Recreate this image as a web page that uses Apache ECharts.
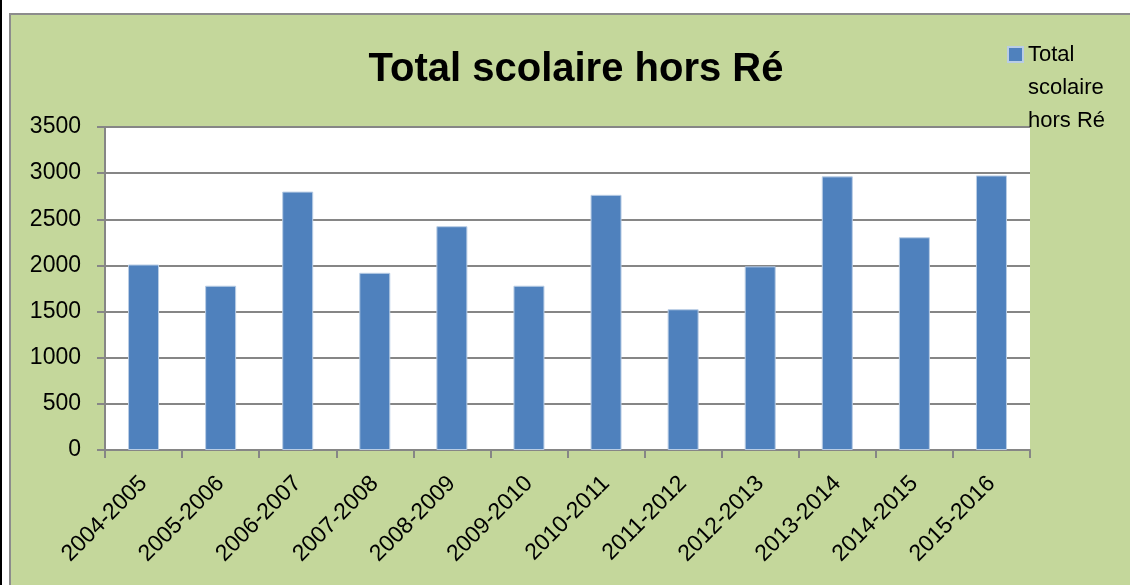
<!DOCTYPE html>
<html>
<head>
<meta charset="utf-8">
<script src="https://cdn.jsdelivr.net/npm/echarts@6/dist/echarts.min.js"></script>
<style>
    html, body { margin: 0; padding: 0; background: #fff; }
    .frame {
        position: absolute; left: 0; top: 0; width: 2px; height: 585px; background: #000;
    }
    .panel {
        position: absolute; left: 9px; top: 13px; width: 1130px; height: 600px;
        background: #c4d79b; border-left: 2px solid #8c8c8c; border-top: 2px solid #8c8c8c;
    }
    #chart { position: absolute; left: 0; top: 0; width: 1130px; height: 585px; }
</style>
</head>
<body>
<div class="frame"></div>
<div class="panel"></div>
<div id="chart"></div>
<script>
const years = ['2004-2005', '2005-2006', '2006-2007', '2007-2008', '2008-2009', '2009-2010',
    '2010-2011', '2011-2012', '2012-2013', '2013-2014', '2014-2015', '2015-2016']
const totals = [2010, 1780, 2800, 1920, 2425, 1780, 2765, 1525, 1990, 2965, 2305, 2975]
const seriesName = 'Total scolaire hors Ré'

const font = '"Liberation Sans", Arial, sans-serif'
const gridGray = '#868686'
const chart = echarts.init(document.getElementById('chart'), null, { renderer: 'canvas' })

chart.setOption({
    animation: false,
    textStyle: { fontFamily: font },
    title: {
        text: seriesName,
        left: 571,
        top: 45,
        textAlign: 'center',
        textStyle: { fontSize: 40, fontWeight: 'bold', color: '#000', fontFamily: font },
    },
    legend: {
        data: [seriesName],
        left: 1007,
        top: -28,
        padding: 0,
        icon: 'rect',
        itemWidth: 15,
        itemHeight: 15,
        // two blank lines first so the icon sits level with "Total"
        formatter: () => '\n\nTotal\nscolaire\nhors Ré',
        textStyle: { fontSize: 22, lineHeight: 33, color: '#000' },
    },
    grid: {
        left: 105, right: 100, top: 127, bottom: 135,
        show: true, backgroundColor: '#fff', borderWidth: 0,
    },
    xAxis: {
        type: 'category',
        data: years,
        axisLine: { lineStyle: { color: gridGray, width: 2 } },
        axisTick: { show: true, length: 8, lineStyle: { color: gridGray, width: 2 } },
        axisLabel: { rotate: 45, interval: 0, fontSize: 23, color: '#000', margin: 30 },
    },
    yAxis: {
        type: 'value',
        min: 0, max: 3500, interval: 500,
        axisLine: { show: true, lineStyle: { color: gridGray, width: 2 } },
        axisTick: { show: true, length: 8, lineStyle: { color: gridGray, width: 2 } },
        axisLabel: { fontSize: 23, color: '#000', margin: 24, formatter: v => String(v) },
        splitLine: { lineStyle: { color: gridGray, width: 2 } },
    },
    series: [{
        name: seriesName,
        type: 'bar',
        data: totals,
        barWidth: 31,
        itemStyle: { color: '#4f81bd', borderColor: '#b9cde5', borderWidth: 1 },
    }],
})
</script>
</body>
</html>
